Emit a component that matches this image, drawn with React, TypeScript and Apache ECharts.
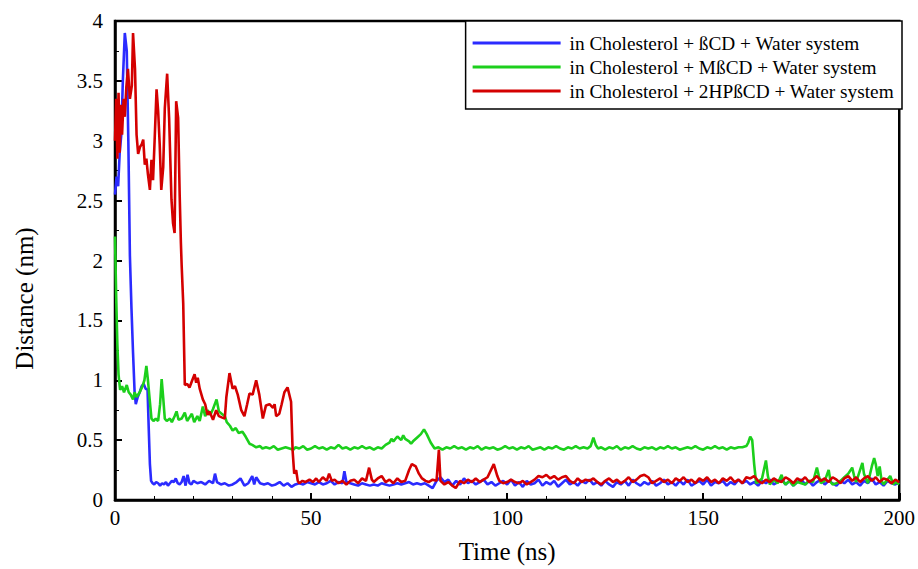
import React, { useEffect, useRef } from "react";
import * as echarts from "echarts";

const xTicks = [0, 50, 100, 150, 200];
const yTicks = [0, 0.5, 1, 1.5, 2, 2.5, 3, 3.5, 4];

const seriesNames = [
  "in Cholesterol + ßCD + Water system",
  "in Cholesterol + MßCD + Water system",
  "in Cholesterol + 2HPßCD + Water system",
];
const seriesColors = ["#2b2bff", "#1ccf1c", "#d40000"];

// [time (ns), distance (nm)]
const blueData: number[][] = [
  [0, 2.55], [0.4, 2.7], [0.8, 2.62], [1.2, 2.9], [1.6, 3.05], [2.0, 3.5], [2.5, 3.9], [3.0, 3.75], [3.4, 3.0], [3.8, 2.04],
  [4.2, 1.6], [4.6, 1.23], [5.0, 0.9], [5.3, 0.8], [5.8, 0.86], [6.3, 0.9], [6.8, 0.95], [7.3, 0.97], [7.8, 0.93], [8.3, 0.92],
  [8.6, 0.6], [8.9, 0.3], [9.2, 0.16], [9.6, 0.14], [10, 0.13], [10.5, 0.15], [11, 0.14], [11.5, 0.12], [12, 0.14], [12.5, 0.13],
  [13, 0.15], [13.5, 0.12], [14, 0.14], [14.5, 0.16], [15, 0.15], [15.5, 0.18], [16, 0.14], [16.5, 0.13], [17, 0.15], [17.5, 0.2],
  [18, 0.12], [18.5, 0.21], [19, 0.14], [19.5, 0.13], [20, 0.16], [21, 0.14], [22, 0.15], [23, 0.13], [24, 0.16], [25, 0.14],
  [25.5, 0.22], [26, 0.15], [27, 0.13], [28, 0.14], [29, 0.12], [30, 0.13], [31, 0.15], [32, 0.18], [33, 0.12], [34, 0.14],
  [35, 0.2], [35.5, 0.13], [36, 0.19], [37, 0.14], [38, 0.13], [39, 0.14], [40, 0.12], [41, 0.13], [42, 0.15], [43, 0.12],
  [44, 0.14], [45, 0.11], [46, 0.13], [47, 0.14], [48, 0.13], [49, 0.15], [50, 0.14], [51, 0.13], [52, 0.15], [53, 0.13],
  [54, 0.14], [55, 0.16], [56, 0.13], [57, 0.15], [58, 0.14], [58.5, 0.24], [59, 0.15], [60, 0.14], [61, 0.13], [62, 0.12],
  [63, 0.14], [64, 0.13], [65, 0.12], [66, 0.13], [67, 0.12], [68, 0.14], [69, 0.13], [70, 0.12], [71, 0.13], [72, 0.14],
  [73, 0.13], [74, 0.14], [75, 0.15], [76, 0.13], [77, 0.14], [78, 0.13], [79, 0.14], [80, 0.12], [81, 0.1], [82, 0.16],
  [83, 0.19], [84, 0.15], [85, 0.17], [86, 0.12], [87, 0.16], [88, 0.13], [89, 0.18], [90, 0.14], [91, 0.16], [92, 0.13],
  [93, 0.15], [94, 0.17], [95, 0.13], [96, 0.15], [97, 0.12], [98, 0.14], [99, 0.16], [100, 0.13], [101, 0.17], [102, 0.12],
  [103, 0.15], [104, 0.11], [105, 0.16], [106, 0.13], [107, 0.14], [108, 0.17], [109, 0.12], [110, 0.15], [111, 0.13], [112, 0.16],
  [113, 0.11], [114, 0.14], [115, 0.17], [116, 0.13], [117, 0.15], [118, 0.12], [119, 0.16], [120, 0.14], [121, 0.17], [122, 0.13],
  [123, 0.15], [124, 0.12], [125, 0.16], [126, 0.13], [127, 0.11], [128, 0.15], [129, 0.13], [130, 0.16], [131, 0.12], [132, 0.17],
  [133, 0.14], [134, 0.12], [135, 0.15], [136, 0.13], [137, 0.16], [138, 0.12], [139, 0.14], [140, 0.17], [141, 0.13], [142, 0.15],
  [143, 0.12], [144, 0.16], [145, 0.13], [146, 0.17], [147, 0.12], [148, 0.14], [149, 0.16], [150, 0.13], [151, 0.17], [152, 0.12],
  [153, 0.15], [154, 0.14], [155, 0.16], [156, 0.12], [157, 0.15], [158, 0.13], [159, 0.17], [160, 0.14], [161, 0.16], [162, 0.13],
  [163, 0.15], [164, 0.12], [165, 0.16], [166, 0.14], [167, 0.17], [168, 0.13], [169, 0.15], [170, 0.18], [171, 0.13], [172, 0.16],
  [173, 0.12], [174, 0.15], [175, 0.17], [176, 0.13], [177, 0.16], [178, 0.12], [179, 0.15], [180, 0.17], [181, 0.13], [182, 0.16],
  [183, 0.14], [184, 0.12], [185, 0.16], [186, 0.14], [187, 0.17], [188, 0.13], [189, 0.15], [190, 0.12], [191, 0.16], [192, 0.14],
  [193, 0.18], [194, 0.13], [195, 0.15], [196, 0.12], [197, 0.16], [198, 0.14], [199, 0.13], [200, 0.15],
];

const greenData: number[][] = [
  [0, 2.2], [0.3, 1.7], [0.6, 1.3], [0.9, 1.05], [1.3, 0.92], [1.8, 0.95], [2.3, 0.9], [3.0, 0.96], [3.5, 0.9], [4.0, 0.88],
  [4.6, 0.84], [5.0, 0.9], [5.5, 0.86], [6.3, 0.9], [7.0, 0.95], [7.5, 1.0], [8.0, 1.12], [8.4, 1.0], [8.9, 0.82], [9.3, 0.68],
  [9.8, 0.66], [10.4, 0.68], [11.0, 0.66], [11.5, 0.8], [11.9, 1.01], [12.3, 0.85], [12.7, 0.68], [13.2, 0.66], [14, 0.68], [14.5, 0.65],
  [15.2, 0.7], [15.7, 0.74], [16.2, 0.67], [17, 0.68], [17.8, 0.73], [18.4, 0.66], [19, 0.69], [19.6, 0.72], [20.2, 0.65], [21, 0.7],
  [21.6, 0.66], [22.4, 0.78], [23, 0.7], [23.6, 0.75], [24.3, 0.71], [25, 0.76], [25.9, 0.84], [26.5, 0.74], [27.2, 0.72], [28, 0.7],
  [28.5, 0.65], [29.3, 0.62], [30, 0.58], [30.8, 0.6], [31.5, 0.56], [32.5, 0.57], [33.3, 0.53], [34.3, 0.47], [35, 0.46], [36, 0.44],
  [37, 0.45], [37.6, 0.43], [38.5, 0.44], [39.5, 0.43], [40.5, 0.45], [41.5, 0.42], [42.5, 0.43], [43.5, 0.44], [44.5, 0.43], [45.5, 0.42],
  [46, 0.44], [47, 0.43], [48, 0.45], [49, 0.42], [50, 0.43], [51, 0.45], [52, 0.43], [53, 0.44], [54, 0.42], [55, 0.44],
  [56, 0.43], [57, 0.46], [58, 0.43], [59, 0.44], [60, 0.42], [61, 0.44], [62, 0.43], [63, 0.45], [64, 0.43], [65, 0.44],
  [66, 0.42], [67, 0.44], [68, 0.43], [69, 0.46], [70, 0.48], [70.5, 0.51], [71, 0.49], [72, 0.53], [73, 0.5], [73.5, 0.54],
  [74, 0.51], [75, 0.49], [75.5, 0.47], [76, 0.49], [77, 0.52], [78, 0.55], [78.8, 0.59], [79.5, 0.55], [80.5, 0.48], [81.5, 0.43],
  [82.5, 0.44], [83.5, 0.42], [84.5, 0.44], [85.5, 0.43], [86.5, 0.45], [87.5, 0.43], [88.5, 0.44], [89.5, 0.42], [90.5, 0.44], [91.5, 0.43],
  [92.5, 0.45], [93.5, 0.42], [94.5, 0.44], [95.5, 0.43], [96.5, 0.44], [97.5, 0.42], [98.5, 0.43], [99.5, 0.45], [100.5, 0.43], [101.5, 0.44],
  [102.5, 0.42], [103.5, 0.44], [104.5, 0.43], [105.5, 0.45], [106.5, 0.42], [107.5, 0.43], [108.5, 0.44], [109.5, 0.42], [110.5, 0.44], [111.5, 0.43],
  [112.5, 0.45], [113.5, 0.43], [114.5, 0.42], [115.5, 0.44], [116.5, 0.43], [117.5, 0.45], [118.5, 0.43], [119.5, 0.44], [120.5, 0.43], [121.3, 0.45],
  [122, 0.52], [122.6, 0.46], [123.2, 0.43], [124, 0.44], [125, 0.42], [126, 0.44], [127, 0.43], [128, 0.45], [129, 0.42], [130, 0.44],
  [131, 0.43], [132, 0.45], [133, 0.43], [134, 0.42], [135, 0.44], [136, 0.43], [137, 0.44], [138, 0.42], [139, 0.44], [140, 0.43],
  [141, 0.45], [142, 0.43], [143, 0.44], [144, 0.42], [145, 0.43], [146, 0.44], [147, 0.43], [148, 0.45], [149, 0.43], [150, 0.42],
  [151, 0.44], [152, 0.43], [153, 0.45], [154, 0.43], [155, 0.44], [156, 0.42], [157, 0.44], [158, 0.43], [159, 0.44], [160, 0.44],
  [161, 0.45], [161.5, 0.48], [162, 0.53], [162.5, 0.5], [163, 0.3], [163.5, 0.14], [164, 0.15], [165, 0.18], [166, 0.33], [166.5, 0.2],
  [167, 0.13], [168, 0.17], [169, 0.14], [170, 0.21], [170.5, 0.15], [171, 0.13], [172, 0.16], [173, 0.12], [174, 0.15], [175, 0.14],
  [176, 0.13], [177, 0.16], [178, 0.15], [179, 0.27], [179.5, 0.2], [180, 0.14], [181, 0.16], [182, 0.25], [182.5, 0.15], [183, 0.13],
  [184, 0.14], [185, 0.16], [186, 0.19], [187, 0.22], [188, 0.27], [188.5, 0.2], [189, 0.15], [190, 0.25], [190.6, 0.31], [191, 0.22],
  [192, 0.14], [193, 0.28], [193.6, 0.35], [194, 0.3], [194.5, 0.2], [195, 0.28], [195.5, 0.16], [196, 0.13], [197, 0.17], [197.7, 0.2],
  [198.5, 0.13], [199, 0.15], [200, 0.13],
];

const redData: number[][] = [
  [0, 3.0], [0.3, 3.35], [0.6, 2.85], [0.9, 3.4], [1.2, 2.9], [1.5, 3.3], [1.8, 3.05], [2.2, 3.35], [2.5, 3.2], [2.9, 3.45],
  [3.3, 3.6], [3.8, 3.35], [4.3, 3.46], [4.6, 3.9], [5.1, 3.6], [5.5, 3.05], [5.9, 2.89], [6.4, 2.95], [6.8, 2.97], [7.2, 3.01],
  [7.6, 2.8], [8.0, 2.85], [8.4, 2.72], [8.9, 2.59], [9.3, 2.84], [9.7, 2.67], [10.1, 3.0], [10.6, 3.43], [11.0, 3.25], [11.4, 2.97],
  [11.8, 2.59], [12.3, 2.78], [12.7, 3.27], [13.3, 3.56], [13.8, 3.19], [14.4, 2.51], [14.8, 2.31], [15.2, 2.23], [15.6, 3.33], [16.1, 3.19],
  [16.5, 2.54], [16.8, 2.15], [17.0, 1.96], [17.4, 1.64], [17.8, 0.96], [18.4, 0.97], [19.0, 0.94], [19.7, 1.0], [20.3, 1.05], [20.7, 0.98],
  [21.1, 1.02], [21.6, 0.93], [22.4, 0.84], [23.0, 0.8], [23.6, 0.71], [24.1, 0.74], [25.0, 0.67], [25.8, 0.75], [26.5, 0.7], [27.2, 0.69],
  [28.0, 0.68], [28.4, 0.86], [29.2, 1.06], [30.0, 0.93], [30.6, 0.95], [31.3, 0.88], [32.2, 0.75], [33.0, 0.7], [33.7, 0.8], [34.3, 0.89],
  [35.1, 0.88], [36.0, 1.0], [36.8, 0.88], [37.7, 0.68], [38.5, 0.79], [39.4, 0.8], [40.3, 0.77], [40.7, 0.8], [41.1, 0.7], [41.9, 0.72],
  [42.5, 0.8], [43.2, 0.9], [44.0, 0.94], [44.9, 0.82], [45.3, 0.41], [45.7, 0.22], [46.2, 0.25], [46.6, 0.16], [47.0, 0.14], [47.8, 0.16],
  [48.5, 0.15], [49.6, 0.17], [50.5, 0.15], [51.3, 0.18], [52, 0.15], [53, 0.19], [54, 0.16], [54.6, 0.22], [55.3, 0.16], [56, 0.17],
  [57, 0.14], [58, 0.16], [59, 0.13], [60, 0.16], [61, 0.17], [62, 0.14], [63, 0.18], [64, 0.16], [64.8, 0.27], [65.5, 0.17],
  [66, 0.15], [67, 0.18], [68, 0.2], [69, 0.15], [70, 0.17], [71, 0.14], [72, 0.18], [73, 0.15], [74, 0.16], [75, 0.25],
  [75.7, 0.3], [76.7, 0.28], [77.5, 0.22], [78.3, 0.18], [79.2, 0.16], [80, 0.15], [81, 0.17], [82, 0.16], [82.6, 0.42], [83, 0.16],
  [84, 0.13], [85, 0.15], [86, 0.12], [86.9, 0.1], [88, 0.16], [89, 0.14], [90, 0.17], [91, 0.15], [92, 0.18], [93, 0.15],
  [94, 0.17], [95, 0.19], [96.6, 0.3], [97.5, 0.2], [98, 0.16], [99, 0.14], [100, 0.15], [101, 0.17], [102, 0.15], [103, 0.14],
  [104, 0.16], [105, 0.13], [106, 0.15], [107, 0.17], [108, 0.2], [109, 0.19], [110, 0.21], [111, 0.18], [112, 0.2], [113, 0.17],
  [114, 0.19], [115, 0.2], [116, 0.16], [117, 0.14], [118, 0.18], [119, 0.15], [120, 0.17], [121, 0.16], [122, 0.18], [123, 0.15],
  [124, 0.13], [125, 0.16], [126, 0.18], [127, 0.15], [128, 0.17], [129, 0.14], [130, 0.16], [131, 0.19], [132, 0.15], [133, 0.17],
  [134, 0.2], [135, 0.21], [136, 0.19], [137, 0.14], [138, 0.16], [139, 0.18], [140, 0.15], [141, 0.17], [142, 0.14], [143, 0.18],
  [144, 0.16], [145, 0.19], [146, 0.15], [147, 0.17], [148, 0.14], [149, 0.18], [150, 0.16], [151, 0.19], [152, 0.15], [153, 0.17],
  [154, 0.14], [155, 0.18], [156, 0.16], [157, 0.19], [158, 0.15], [159, 0.17], [160, 0.14], [161, 0.19], [162, 0.18], [163, 0.2],
  [164, 0.16], [165, 0.14], [166, 0.17], [167, 0.15], [168, 0.18], [169, 0.16], [170, 0.15], [171, 0.19], [172, 0.17], [173, 0.14],
  [174, 0.18], [175, 0.16], [176, 0.19], [177, 0.15], [178, 0.17], [179, 0.2], [180, 0.16], [181, 0.18], [182, 0.15], [183, 0.19],
  [184, 0.17], [185, 0.14], [186, 0.18], [187, 0.2], [188, 0.16], [189, 0.19], [190, 0.15], [191, 0.18], [192, 0.2], [193, 0.16],
  [194, 0.19], [195, 0.15], [196, 0.18], [197, 0.17], [198, 0.14], [199, 0.17], [200, 0.15],
];

const FONT = "'Liberation Serif', 'Times New Roman', serif";

export default function App() {
  const ref = useRef<HTMLDivElement>(null);
  useEffect(() => {
    if (!ref.current) return;
    const chart = echarts.init(ref.current, null, { renderer: "svg" });
    const datasets = [blueData, greenData, redData];
    chart.setOption({
      animation: false,
      backgroundColor: "#ffffff",
      grid: {
        left: 115,
        right: 16,
        top: 21,
        bottom: 59,
        show: true,
        borderColor: "#000",
        borderWidth: 2.5,
        backgroundColor: "transparent",
      },
      legend: {
        right: 16,
        top: 21,
        orient: "vertical",
        align: "left",
        backgroundColor: "#fff",
        borderColor: "#000",
        borderWidth: 1.5,
        borderRadius: 0,
        padding: [12, 8, 8, 7],
        itemGap: 4,
        itemWidth: 88,
        itemHeight: 3,
        icon: "rect",
        textStyle: { fontFamily: FONT, fontSize: 19.3, color: "#000", lineHeight: 20, padding: [0, 0, 0, 4] },
        data: seriesNames,
      },
      xAxis: {
        type: "value",
        min: xTicks[0],
        max: xTicks[xTicks.length - 1],
        interval: 50,
        name: "Time (ns)",
        nameLocation: "middle",
        nameGap: 39,
        nameTextStyle: { fontFamily: FONT, fontSize: 25, color: "#000" },
        axisLine: { show: true, onZero: false, lineStyle: { color: "#000", width: 2.5 } },
        axisTick: { show: true, inside: true, length: 7, lineStyle: { color: "#000", width: 2 } },
        minorTick: { show: true, splitNumber: 5, length: 4, lineStyle: { color: "#000", width: 1 } },
        axisLabel: { fontFamily: FONT, fontSize: 21, color: "#000", margin: 7 },
        splitLine: { show: false },
      },
      yAxis: {
        type: "value",
        min: yTicks[0],
        max: yTicks[yTicks.length - 1],
        interval: 0.5,
        name: "Distance (nm)",
        nameLocation: "middle",
        nameGap: 78,
        nameTextStyle: { fontFamily: FONT, fontSize: 25, color: "#000", padding: [0, 76, 0, 0] },
        axisLine: { show: true, lineStyle: { color: "#000", width: 2.5 } },
        axisTick: { show: true, inside: true, length: 7, lineStyle: { color: "#000", width: 2 } },
        minorTick: { show: true, splitNumber: 2, length: 4, lineStyle: { color: "#000", width: 1 } },
        axisLabel: { fontFamily: FONT, fontSize: 21, color: "#000", margin: 12 },
        splitLine: { show: false },
      },
      series: datasets.map((d, i) => ({
        type: "line",
        name: seriesNames[i],
        data: d,
        showSymbol: false,
        symbol: "none",
        color: seriesColors[i],
        lineStyle: { color: seriesColors[i], width: 2.6 },
        z: 2 + i,
      })),
    });
    return () => chart.dispose();
  }, []);
  return <div ref={ref} style={{ width: 918, height: 569, position: "absolute", left: 0, top: 0 }} />;
}
